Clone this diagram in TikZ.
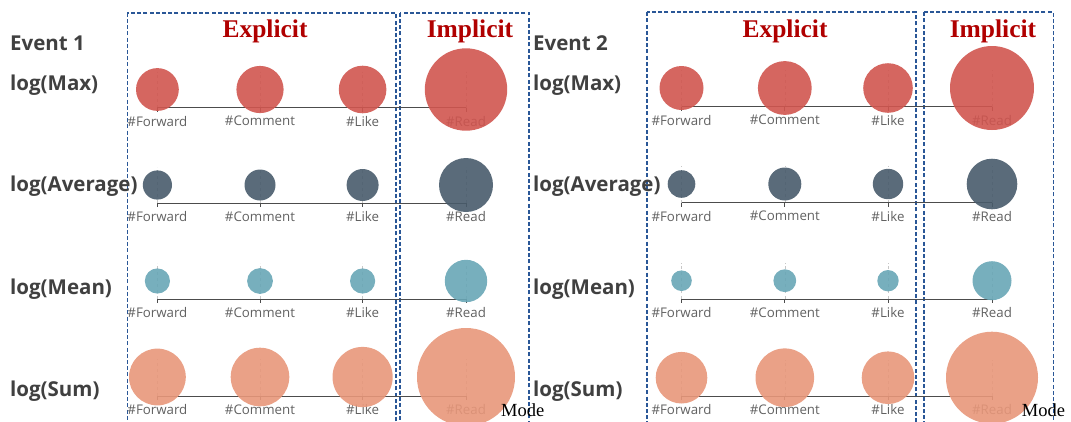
\documentclass[tikz,border=0pt]{standalone}
\usepackage{fontspec}
\newfontfamily\uifont{Open Sans}
\newfontfamily\titleserif{Liberation Serif}
\definecolor{boxblue}{HTML}{2A5797}
\definecolor{titlered}{HTML}{B00000}
\definecolor{maxred}{HTML}{D0554F}
\definecolor{avgslate}{HTML}{485B6B}
\definecolor{meanteal}{HTML}{68A6B6}
\definecolor{sumsalmon}{HTML}{E8977A}
\tikzstyle{bubble}=[circle,draw=none,inner sep=0pt,outer sep=0pt,fill opacity=0.9]
\tikzstyle{axisline}=[draw=black!70,line width=1pt]
\tikzstyle{gridline}=[draw=black!22,dashed,line width=0.5pt]
\tikzstyle{ticklabel}=[inner sep=0pt,text=black!62,font=\uifont\fontsize{13.3}{15}\selectfont]
\tikzstyle{rowlabel}=[anchor=west,inner sep=0pt,text=black!75,font=\uifont\bfseries\fontsize{20.5}{23}\selectfont]
\tikzstyle{grouptitle}=[inner sep=0pt,text=titlered,font=\titleserif\bfseries\fontsize{25.5}{28}\selectfont]
\tikzstyle{groupbox}=[draw=boxblue,dash pattern=on 4pt off 2.2pt,line width=1.8pt]
\tikzstyle{modelabel}=[anchor=west,inner sep=0pt,font=\titleserif\fontsize{18.5}{20}\selectfont]

% #1 name, #2 bubble y, #3 axis y, #4 colour, #5-#8 radii
\newcommand{\bubblerow}[8]{%
  \coordinate (#1a) at (\xa,#3);
  \coordinate (#1b) at (\xb,#3);
  \coordinate (#1c) at (\xc,#3);
  \coordinate (#1d) at (\xd,#3);
  \node[ticklabel] (#1la) at (\xa,#3+13.5) {\#Forward};
  \node[ticklabel] (#1lb) at (\xb,#3+13.5) {\#Comment};
  \node[ticklabel] (#1lc) at (\xc,#3+13.5) {\#Like};
  \node[ticklabel] (#1ld) at (\xd,#3+13.5) {\#Read};
  \foreach \k in {a,b,c,d} {
    \draw[gridline] (#1\k) -- ++(0,{#2-#3-18});
    \draw[axisline] (#1\k) -- ++(0,4);
  }
  \draw[axisline] (#1a) -- (#1d);
  \node[bubble,fill=#4,minimum size={2*#5pt}] (#1ca) at (\xa,#2) {};
  \node[bubble,fill=#4,minimum size={2*#6pt}] (#1cb) at (\xb,#2) {};
  \node[bubble,fill=#4,minimum size={2*#7pt}] (#1cc) at (\xc,#2) {};
  \node[bubble,fill=#4,minimum size={2*#8pt}] (#1cd) at (\xd,#2) {};
}

\begin{document}
\begin{tikzpicture}[x=1pt,y=-1pt]
  \useasboundingbox (0,0) rectangle (1071,421);
  \clip (0,0) rectangle (1071,421);

  % Event 1
  \draw[groupbox] (127.4,12.8) rectangle (396,430);
  \draw[groupbox] (399.8,12.8) rectangle (529,430);
  \node[grouptitle] (e1explicit) at (265,31) {Explicit};
  \node[grouptitle] (e1implicit) at (470,31) {Implicit};
  \node[rowlabel] (e1event) at (10,43) {Event 1};
  \node[rowlabel] (e1lmax) at (10,85) {log(Max)};
  \node[rowlabel] (e1lavg) at (10,186) {log(Average)};
  \node[rowlabel] (e1lmean) at (10,289) {log(Mean)};
  \node[rowlabel] (e1lsum) at (10,391) {log(Sum)};
  \def\xa{157.4}\def\xb{260}\def\xc{362.6}\def\xd{466}
  \bubblerow{e1max}{89.5}{107.7}{maxred}{21.4}{23.6}{23.8}{41.2}
  \bubblerow{e1avg}{185}{203}{avgslate}{14.6}{15.5}{16}{27}
  \bubblerow{e1mean}{281}{299}{meanteal}{12.6}{12.9}{12.6}{21.2}
  \bubblerow{e1sum}{377}{396}{sumsalmon}{28.4}{29.3}{30.1}{49}
  \node[modelabel] (e1mode) at (501,410) {Mode};

  % Event 2
  \draw[groupbox] (647,12.2) rectangle (915.7,430);
  \draw[groupbox] (923.6,12.2) rectangle (1053.4,430);
  \node[grouptitle] (e2explicit) at (785,31) {Explicit};
  \node[grouptitle] (e2implicit) at (993,31) {Implicit};
  \node[rowlabel] (e2event) at (533,43) {Event 2};
  \node[rowlabel] (e2lmax) at (533,85) {log(Max)};
  \node[rowlabel] (e2lavg) at (533,186) {log(Average)};
  \node[rowlabel] (e2lmean) at (533,289) {log(Mean)};
  \node[rowlabel] (e2lsum) at (533,391) {log(Sum)};
  \def\xa{681.5}\def\xb{784.8}\def\xc{888}\def\xd{992}
  \bubblerow{e2max}{88}{106.7}{maxred}{22}{26.9}{24.8}{42}
  \bubblerow{e2avg}{184}{202.7}{avgslate}{13.8}{16.5}{15.2}{25.3}
  \bubblerow{e2mean}{280.7}{299}{meanteal}{10.3}{11.4}{10.7}{19.5}
  \bubblerow{e2sum}{377.7}{396.3}{sumsalmon}{25.8}{29.3}{26.3}{46}
  \node[modelabel] (e2mode) at (1021.7,410) {Mode};
\end{tikzpicture}
\end{document}
